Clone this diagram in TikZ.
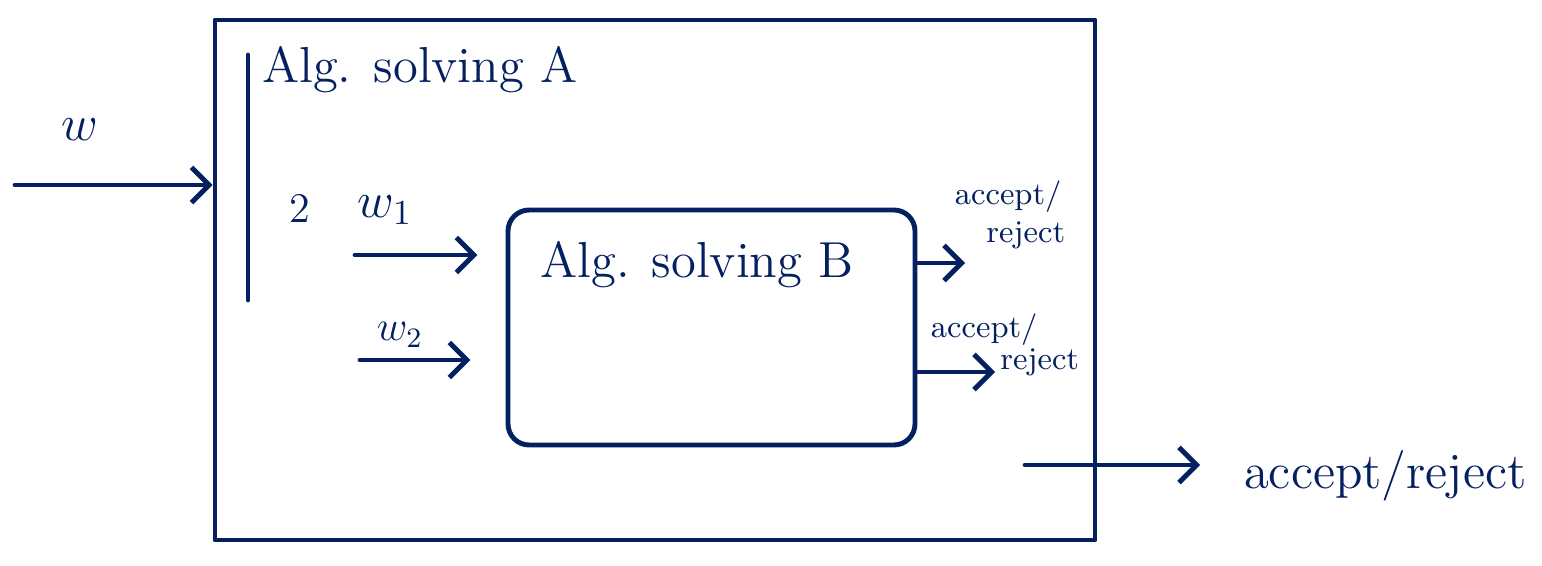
\documentclass[tikz,border=0pt]{standalone}
\usetikzlibrary{arrows.meta}
\definecolor{ink}{RGB}{4,32,96}
\begin{document}
\begin{tikzpicture}[ink,line width=1.4pt,line cap=round,line join=round,
  box/.style={draw,rectangle,inner sep=0pt},
  flow/.style={-{Straight Barb[length=5pt,width=10pt]}},
  lbl/.style={font=\Large},
  small/.style={font=\small,align=left,inner sep=0pt}]

  \useasboundingbox (0,0) rectangle (15.42,5.66);

  % Boxes
  \node[box,minimum width=8.8cm,minimum height=5.2cm] (algA) at (6.55,2.86) {};
  \node[box,rounded corners=6pt,minimum width=4.07cm,minimum height=2.35cm] (algB) at (7.115,2.385) {};
  \coordinate (A1) at (2.48,5.11);
  \coordinate (A2) at (2.48,2.66);
  \draw (A1)--(A2);

  % Titles
  \node[lbl] (titleA) at (4.2,4.96) {Alg. solving A};
  \node[lbl] (titleB) at (6.97,3.01) {Alg. solving B};

  % Inputs
  \coordinate (in) at (0.15,3.81);
  \draw[flow] (in)--(in-|algA.west);
  \node[lbl] (w) at (0.8,4.36) {$w$};

  \node[font=\large] (two) at (3.0,3.58) {2};
  \coordinate (in1) at (3.55,3.11);
  \coordinate (in2) at (3.6,2.06);
  \draw[flow,shorten >=8pt] (in1)--(in1-|algB.west);
  \draw[flow,shorten >=10pt] (in2)--(in2-|algB.west);
  \node[lbl] (w1) at (3.85,3.56) {$w_1$};
  \node[font=\large] (w2) at (4.0,2.31) {$w_2$};

  % Outputs of B
  \coordinate (out1) at (9.65,3.03);
  \coordinate (out2) at (9.95,1.94);
  \draw[flow] (out1-|algB.east)--(out1);
  \draw[flow] (out2-|algB.east)--(out2);
  \node[small] (res1) at (10.1,3.51) {accept/\\\quad reject};
  \node[small] (res2) at (10.05,2.21) {accept/\\[-2pt]\hspace{2.2em}reject};

  % Output of A
  \coordinate (outA) at (10.25,1.01);
  \coordinate (endA) at (12.0,1.01);
  \draw[flow] (outA)--(endA);
  \node[lbl,anchor=west] (resA) at (12.3,0.9) {accept/reject};

\end{tikzpicture}
\end{document}
